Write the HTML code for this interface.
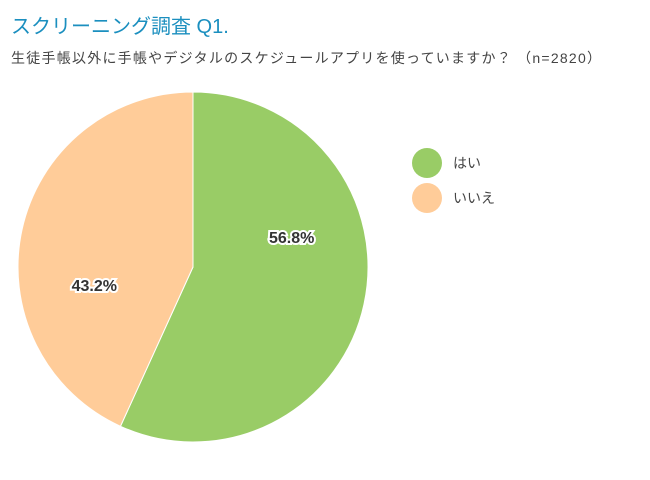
<!DOCTYPE html>
<html><head><meta charset="utf-8"><style>
body{margin:0;background:#fff;width:650px;height:475px;overflow:hidden;font-family:"Liberation Sans","Noto Sans CJK JP",sans-serif}
</style></head><body>
<svg width="650" height="475">
<text x="11" y="33" font-size="20" fill="#1b8fbf" font-family="Liberation Sans, Noto Sans CJK JP, sans-serif">スクリーニング調査 Q1.</text>
<text x="11" y="63" font-size="14" fill="#444" font-family="Liberation Sans, Noto Sans CJK JP, sans-serif" textLength="590">生徒手帳以外に手帳やデジタルのスケジュールアプリを使っていますか？ （n=2820）</text>
<g id="slices"></g>
<g id="labels"></g>
<g id="legend"></g>
</svg>
<script>
const categories=["はい","いいえ"];
const values=[56.8,43.2];
const colors=["#99cc66","#ffcc99"];
const cx=193,cy=267,r=175;
const ns="http://www.w3.org/2000/svg";
const total=values.reduce((a,b)=>a+b,0);
let a0=0;
function pt(a,rr){return [cx+rr*Math.sin(a),cy-rr*Math.cos(a)];}
values.forEach((v,i)=>{
  const a1=a0+v/total*2*Math.PI;
  const p0=pt(a0,r),p1=pt(a1,r);
  const path=document.createElementNS(ns,"path");
  path.setAttribute("d",`M${cx},${cy}L${p0[0]},${p0[1]}A${r},${r} 0 ${a1-a0>Math.PI?1:0} 1 ${p1[0]},${p1[1]}Z`);
  path.setAttribute("fill",colors[i]);
  path.setAttribute("stroke","#fff");path.setAttribute("stroke-width","1");
  
  
  document.getElementById("slices").appendChild(path);
  const lp=pt((a0+a1)/2-0.45,r*0.58);
  const t=document.createElementNS(ns,"text");
  t.setAttribute("x",lp[0]);t.setAttribute("y",lp[1]);
  t.setAttribute("text-anchor","middle");t.setAttribute("font-size","16");t.setAttribute("font-weight","bold");
  t.setAttribute("fill","#333");t.setAttribute("stroke","#fff");t.setAttribute("stroke-width","4");t.setAttribute("paint-order","stroke");
  t.textContent=v.toFixed(1)+"%";
  
  
  document.getElementById("labels").appendChild(t);
  const c=document.createElementNS(ns,"circle");
  c.setAttribute("cx",427);c.setAttribute("cy",163+i*35);c.setAttribute("r",15);c.setAttribute("fill",colors[i]);
  
  
  document.getElementById("legend").appendChild(c);
  const lt=document.createElementNS(ns,"text");
  lt.setAttribute("x",453);lt.setAttribute("y",168+i*35);lt.setAttribute("font-size","14");lt.setAttribute("fill","#444");
  lt.textContent=categories[i];
  
  
  document.getElementById("legend").appendChild(lt);
  a0=a1;
});
</script>
</body></html>
